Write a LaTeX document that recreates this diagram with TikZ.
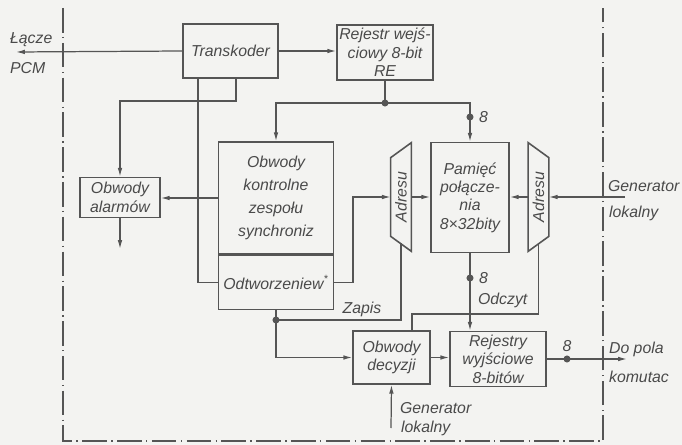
\documentclass[tikz,border=0pt]{standalone}
\usepackage{fontspec}
\setmainfont{Liberation Sans}
\usepackage{xcolor}
\definecolor{paper}{HTML}{F3F3F1}
\definecolor{ink}{HTML}{555555}
\definecolor{inktext}{HTML}{4A4A4A}
\usepackage{tikz}
\usetikzlibrary{arrows.meta,positioning,calc}

\begin{document}
\begin{tikzpicture}[x=0.02cm, y=-0.02cm,
    blok/.style={rectangle, draw=ink, line width=0.9pt, text=inktext, font=\fontsize{9}{10.5}\selectfont\itshape, align=center, inner sep=1pt},
    adr/.style={rectangle, minimum width=0.4cm, minimum height=2.16cm, inner sep=0pt},
    lbl/.style={font=\fontsize{9}{10.5}\selectfont\itshape, text=inktext, inner sep=1pt},
    conn/.style={draw=ink, line width=0.7pt},
    arr/.style={conn, -{Latex[length=5pt,width=2.6pt]}},
    frame/.style={draw=ink, line width=0.9pt, dash pattern=on 14pt off 2.5pt on 0.8pt off 2.5pt}
  ]
    \fill[paper] (0,0) rectangle (682,445);
    \useasboundingbox (0,0) rectangle (682,445);
    \draw[frame] (63,8) -- (63,441) -- (603,441) -- (603,8);

    \node[blok, minimum width=1.9cm, minimum height=1.08cm] (trans) at (230.5,51) {Transkoder};
    \node[blok, minimum width=1.92cm, minimum height=1.1cm] (rejwe) at (385,52.5) {Rejestr wejś-\\ciowy 8-bit\\RE};
    \node[blok, minimum width=1.6cm, minimum height=0.8cm] (alarm) at (120,197.5) {Obwody\\alarmów};
    \node[blok, minimum width=2.3cm, minimum height=2.24cm, font=\fontsize{9}{13}\selectfont\itshape] (kontr) at (276,198) {Obwody\\kontrolne\\zespołu\\synchroniz};
    \node[blok, minimum width=2.3cm, minimum height=1.08cm, anchor=north] (odtw) at (kontr.south) {Odtworzeniew\textsuperscript{*}};
    \node[blok, minimum width=1.56cm, minimum height=2.2cm] (pam) at (470,197.5) {Pamięć\\połącze-\\nia\\8×32bity};
    \node[adr] (adrL) at (401,197) {};
    \node[adr] (adrR) at (538.5,197) {};
    \node[blok, minimum width=1.54cm, minimum height=1.06cm] (decyz) at (391.5,357.5) {Obwody\\decyzji};
    \node[blok, minimum width=1.92cm, minimum height=1.1cm] (rejwy) at (498,359) {Rejestry\\wyjściowe\\8-bitów};

    \draw[conn, line width=0.9pt] (adrL.north east) -- (adrL.south east) -- ([yshift=0.3cm]adrL.south west) -- ([yshift=-0.3cm]adrL.north west) -- cycle;
    \draw[conn, line width=0.9pt] (adrR.north west) -- (adrR.south west) -- ([yshift=0.3cm]adrR.south east) -- ([yshift=-0.3cm]adrR.north east) -- cycle;
    \node[lbl, rotate=90] at (adrL) {Adresu};
    \node[lbl, rotate=90] at (adrR) {Adresu};

    \coordinate (pcm) at (16,52);
    \coordinate (t1) at (236,101);
    \coordinate (t2) at (198,0);
    \coordinate (alarmout) at (120,249);
    \coordinate (bus) at (385,103);
    \coordinate (d8a) at (470,117);
    \coordinate (genR) at (625,197);
    \coordinate (zw) at (353,0);
    \coordinate (jz) at (276,320);
    \coordinate (d8b) at (470,278);
    \coordinate (od) at (412,314);
    \coordinate (genB) at (391,428);
    \coordinate (out) at (627,359);
    \coordinate (d8c) at (567,359);

    \draw[arr] (trans.west) -- (pcm);
    \draw[arr] (trans.east) -- (trans.east -| rejwe.west);
    \draw[conn] (trans.south -| t2) |- (odtw.west);
    \draw[arr] (trans.south -| t1) -- (t1) -| (alarm.north);
    \draw[arr] (alarm.south) -- (alarmout);
    \draw[arr] (kontr.west) -- (kontr.west -| alarm.east);
    \draw[conn] (rejwe.south) -- (bus);
    \draw[arr] (bus) -| (kontr.north);
    \draw[arr] (bus) -| (pam.north);
    \draw[arr] (adrL.east) -- (adrL.east -| pam.west);
    \draw[arr] (adrR.west) -- (adrR.west -| pam.east);
    \draw[arr] (genR) -- (adrR.east);
    \draw[arr] (odtw.east) -- (odtw.east -| zw) |- (adrL.west);
    \draw[conn] ([yshift=0.16cm]adrL.south) |- (jz);
    \draw[conn] (odtw.south) -- (jz);
    \draw[arr] (jz) |- (decyz.west);
    \draw[arr] (decyz.east) -- (decyz.east -| rejwy.west);
    \draw[arr] (pam.south) -- (pam.south |- rejwy.north);
    \draw[conn] ([yshift=0.16cm]adrR.south) |- (od) -- (od |- decyz.north);
    \draw[arr] (genB) -- (decyz.south);
    \draw[arr] (rejwy.east) -- (out);
    \foreach \p in {bus,d8a,jz,d8b,d8c}
      \fill[ink] (\p) circle (2pt);

    \node[lbl, right=4pt of d8a] {8};
    \node[lbl, right=4pt of d8b] {8};
    \node[lbl, above=3pt of d8c] {8};
    \node[lbl] at (362,309) {Zapis};
    \node[lbl, anchor=west] at (476,300) {Odczyt};
    \node[lbl, anchor=west] at (8,40) {Łącze};
    \node[lbl, anchor=west] at (8,68) {PCM};
    \node[lbl, anchor=west] at (606,186) {Generator};
    \node[lbl, anchor=west] at (607,213) {lokalny};
    \node[lbl, anchor=west] at (398,408) {Generator};
    \node[lbl, anchor=west] at (399,428) {lokalny};
    \node[lbl, anchor=west] at (607,349) {Do pola};
    \node[lbl, anchor=west] at (607,377) {komutac};
\end{tikzpicture}
\end{document}
